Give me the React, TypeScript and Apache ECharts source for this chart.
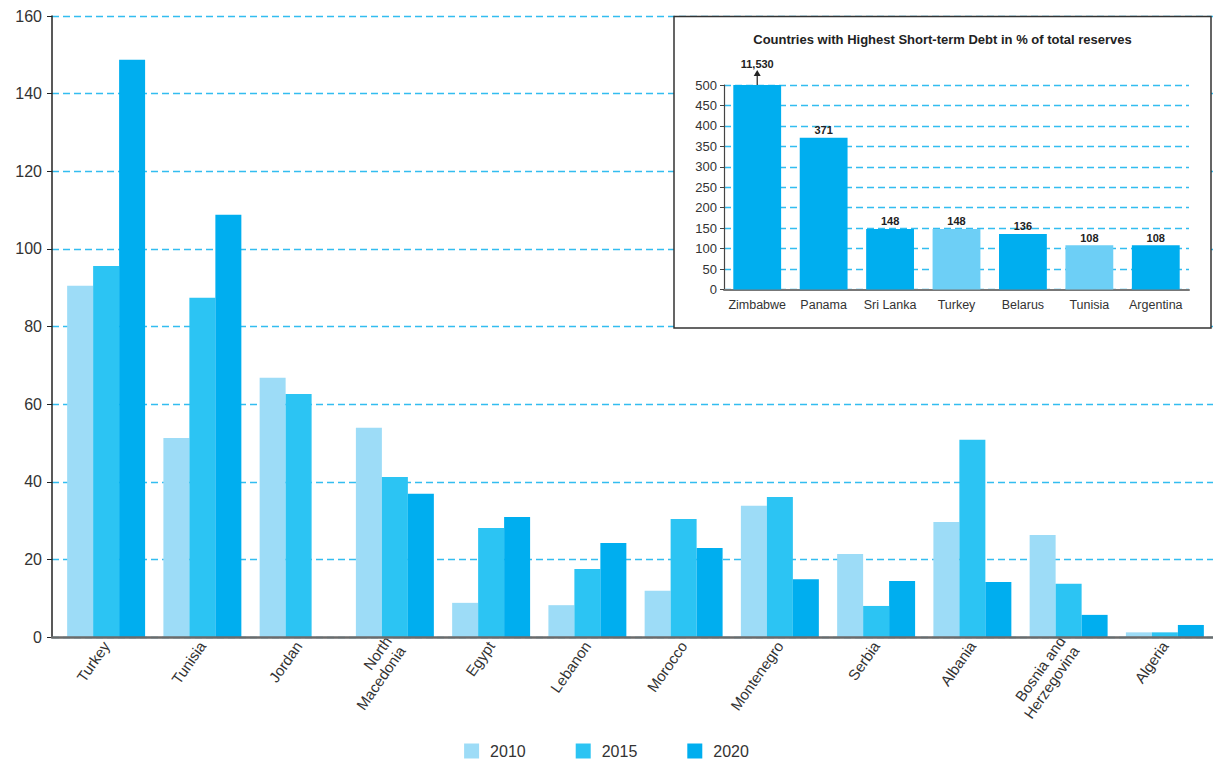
import React, { useEffect, useRef } from 'react';
import * as echarts from 'echarts';

const countries = ['Turkey', 'Tunisia', 'Jordan', 'North\nMacedonia', 'Egypt', 'Lebanon', 'Morocco', 'Montenegro', 'Serbia', 'Albania', 'Bosnia and\nHerzegovina', 'Algeria'];
const years = ['2010', '2015', '2020'];
const values2010 = [90.5, 51.3, 66.8, 53.9, 8.8, 8.2, 11.9, 33.8, 21.4, 29.6, 26.3, 1.2];
const values2015 = [95.6, 87.4, 62.6, 41.2, 28.1, 17.5, 30.4, 36.1, 8.0, 50.8, 13.7, 1.2];
const values2020 = [148.7, 108.8, null, 36.9, 30.9, 24.2, 22.9, 14.9, 14.4, 14.2, 5.7, 3.1];
const mainMax = 160;
const mainInterval = 20;

const insetTitle = 'Countries with Highest Short-term Debt in % of total reserves';
const insetCountries = ['Zimbabwe', 'Panama', 'Sri Lanka', 'Turkey', 'Belarus', 'Tunisia', 'Argentina'];
const insetValues = [11530, 371, 148, 148, 136, 108, 108];
const insetHighlighted = ['Turkey', 'Tunisia'];
const insetMax = 500;
const insetInterval = 50;

const FONT = '"Liberation Sans", Arial, Helvetica, sans-serif';
const colors = ['#9ddcf7', '#2cc4f3', '#00aeef'];

export default function App() {
  const ref = useRef<HTMLDivElement>(null);
  useEffect(() => {
    if (!ref.current) return;
    const chart = echarts.init(ref.current, null, { renderer: 'svg' });
    const gridLine = { show: true, lineStyle: { color: '#33bdf0', type: [7, 4], width: 1.4 } };
    const seriesData = [values2010, values2015, values2020];
    const option: any = {
      animation: false,
      textStyle: { fontFamily: FONT },
      color: colors,
      legend: {
        data: years,
        top: 743,
        left: 'center',
        padding: 0,
        itemWidth: 15,
        itemHeight: 15,
        itemGap: 50,
        icon: 'rect',
        textStyle: { fontSize: 16, color: '#333', fontFamily: FONT, padding: [0, 0, 0, 6] },
      },
      grid: [
        { left: 58, right: -4, top: 16, bottom: 122, containLabel: false },
        { left: 724, right: 24, top: 85, bottom: 469.5, containLabel: false },
        { left: 52, right: -4, top: 16, bottom: 122, containLabel: false },
      ],
      xAxis: [
        {
          type: 'category', gridIndex: 0, data: countries,
          axisLine: { show: false },
          axisTick: { show: false },
          axisLabel: { interval: 0, rotate: 55, fontSize: 15, color: '#333', margin: 6, lineHeight: 17, fontFamily: FONT },
          z: 0,
        },
        {
          type: 'category', gridIndex: 1, data: insetCountries,
          axisLine: { show: true, lineStyle: { color: '#777', width: 2 } },
          axisTick: { show: false },
          axisLabel: { interval: 0, fontSize: 12.5, color: '#333', margin: 9, fontFamily: FONT },
          z: 5,
        },
        {
          type: 'value', gridIndex: 2, min: 0, max: 1,
          axisLine: { show: true, onZero: false, lineStyle: { color: '#6b6b6b', width: 2.5 } },
          axisTick: { show: false },
          axisLabel: { show: false },
          splitLine: { show: false },
          z: 3,
        },
      ],
      yAxis: [
        {
          type: 'value', gridIndex: 0, min: 0, max: mainMax, interval: mainInterval,
          show: false,
        },
        {
          type: 'value', gridIndex: 1, min: 0, max: insetMax, interval: insetInterval,
          axisLine: { show: true, lineStyle: { color: '#444', width: 1.2 } },
          axisTick: { show: true, length: 4, lineStyle: { color: '#444' } },
          axisLabel: { fontSize: 13, color: '#333', margin: 7, fontFamily: FONT },
          splitLine: gridLine,
          z: 5,
        },
        {
          type: 'value', gridIndex: 2, min: 0, max: mainMax, interval: mainInterval,
          axisLine: { show: true, lineStyle: { color: '#222', width: 1.5 } },
          axisTick: { show: true, length: 5, lineStyle: { color: '#222' } },
          axisLabel: { fontSize: 16, color: '#333', margin: 10, fontFamily: FONT },
          splitLine: gridLine,
          z: 0,
        },
      ],
      series: [
        ...years.map((y, i) => ({
          name: y, type: 'bar', xAxisIndex: 0, yAxisIndex: 0,
          data: seriesData[i],
          barGap: '0%', barCategoryGap: '19%',
          itemStyle: { color: colors[i] },
          z: 2,
        })),
        {
          name: 'inset', type: 'bar', xAxisIndex: 1, yAxisIndex: 1,
          barCategoryGap: '28%',
          z: 6,
          data: insetValues.map((v, i) => ({
            value: Math.min(v, insetMax),
            itemStyle: { color: insetHighlighted.includes(insetCountries[i]) ? '#6dcff6' : '#00aeef' },
            label: v > insetMax ? { distance: 16 } : undefined,
          })),
          label: {
            show: true, position: 'top', distance: 2,
            fontSize: 11, fontWeight: 'bold', color: '#222', fontFamily: FONT,
            formatter: (p: any) => insetValues[p.dataIndex].toLocaleString('en-US'),
          },
        },
      ],
    };
    chart.setOption(option);

    const graphics: any[] = [];
    const box = { x: 674, y: 16.5, w: 537, h: 311.5 };
    graphics.push({
      type: 'rect', id: 'insetBox', z: 1,
      shape: { x: box.x, y: box.y, width: box.w, height: box.h },
      style: { fill: '#fff', stroke: '#333', lineWidth: 1.5 },
    });
    graphics.push({
      type: 'text', id: 'insetTitle', z: 7,
      x: box.x + box.w / 2, y: 39.5,
      style: { text: insetTitle, fontSize: 13, fontWeight: 'bold', fill: '#222', fontFamily: FONT, textAlign: 'center', textVerticalAlign: 'middle' },
    });
    insetValues.forEach((v, i) => {
      if (v > insetMax) {
        const p = chart.convertToPixel({ xAxisIndex: 1, yAxisIndex: 1 } as any, [i, insetMax]) as number[];
        graphics.push({
          type: 'line', id: 'arrowLine' + i, z: 7,
          shape: { x1: p[0], y1: p[1], x2: p[0], y2: p[1] - 10 },
          style: { stroke: '#222', lineWidth: 1.2 },
        });
        graphics.push({
          type: 'polygon', id: 'arrowHead' + i, z: 7,
          shape: { points: [[p[0] - 3.5, p[1] - 9], [p[0] + 3.5, p[1] - 9], [p[0], p[1] - 15]] },
          style: { fill: '#222' },
        });
      }
    });
    chart.setOption({ graphic: { elements: graphics } });

    return () => chart.dispose();
  }, []);
  return <div ref={ref} style={{ position: 'fixed', left: 0, top: 0, width: 1213, height: 759, background: '#fff' }} />;
}
